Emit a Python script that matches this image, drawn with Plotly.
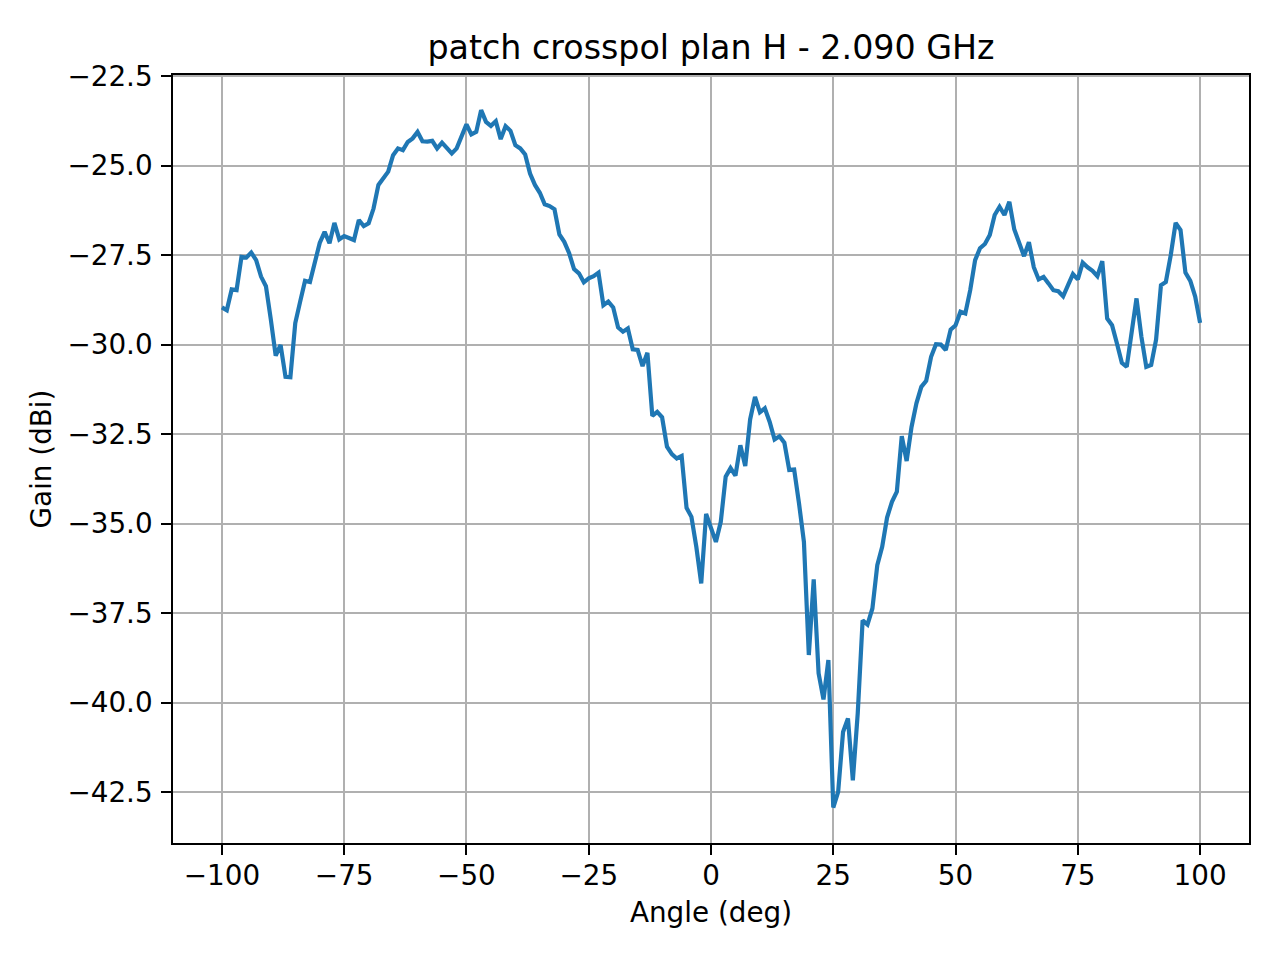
import plotly.graph_objects as go

###############################################################################
# Data: cross-polar gain of the patch, H plane, 2.090 GHz
###############################################################################
angles = list(range(-100, 101))  # deg, 1 degree step

gain_dbi = [
    -28.96, -29.04, -28.46, -28.48, -27.55, -27.57, -27.43, -27.64, -28.10, -28.37,  # -100 .. -91
    -29.30, -30.31, -30.01, -30.90, -30.91, -29.40, -28.80, -28.22, -28.25, -27.64,  # -90 .. -81
    -27.16, -26.85, -27.17, -26.60, -27.06, -26.97, -27.03, -27.08, -26.52, -26.69,  # -80 .. -71
    -26.61, -26.20, -25.54, -25.36, -25.17, -24.71, -24.52, -24.57, -24.34, -24.24,  # -70 .. -61
    -24.06, -24.32, -24.33, -24.31, -24.52, -24.36, -24.52, -24.66, -24.52, -24.22,  # -60 .. -51
    -23.85, -24.13, -24.06, -23.45, -23.78, -23.89, -23.76, -24.26, -23.90, -24.03,  # -50 .. -41
    -24.43, -24.52, -24.69, -25.22, -25.54, -25.76, -26.08, -26.13, -26.22, -26.92,  # -40 .. -31
    -27.13, -27.45, -27.89, -28.01, -28.26, -28.15, -28.09, -27.99, -28.90, -28.80,  # -30 .. -21
    -28.96, -29.52, -29.64, -29.55, -30.13, -30.15, -30.60, -30.23, -31.99, -31.88,  # -20 .. -11
    -32.03, -32.85, -33.06, -33.18, -33.11, -34.56, -34.81, -35.65, -36.67, -34.73,  # -10 .. -1
    -35.09,                                                                          # 0
    -35.51, -34.95, -33.69, -33.45, -33.66, -32.81, -33.39, -32.09, -31.46, -31.89,  # 1 .. 10
    -31.78, -32.16, -32.65, -32.56, -32.74, -33.50, -33.49, -34.44, -35.51, -38.67,  # 11 .. 20
    -36.56, -39.18, -39.91, -38.81, -42.93, -42.49, -40.82, -40.44, -42.17, -40.30,  # 21 .. 30
    -37.70, -37.82, -37.37, -36.16, -35.65, -34.83, -34.39, -34.11, -32.56, -33.25,  # 31 .. 40
    -32.30, -31.64, -31.18, -31.01, -30.34, -29.99, -30.00, -30.15, -29.58, -29.46,  # 41 .. 50
    -29.08, -29.13, -28.48, -27.64, -27.31, -27.19, -26.94, -26.38, -26.15, -26.38,  # 51 .. 60
    -26.01, -26.78, -27.17, -27.53, -27.14, -27.84, -28.18, -28.11, -28.29, -28.48,  # 61 .. 70
    -28.51, -28.65, -28.34, -28.03, -28.18, -27.71, -27.84, -27.94, -28.09, -27.67,  # 71 .. 80
    -29.27, -29.46, -29.97, -30.51, -30.62, -29.60, -28.71, -29.78, -30.62, -30.57,  # 81 .. 90
    -29.86, -28.34, -28.25, -27.50, -26.60, -26.80, -27.99, -28.22, -28.66, -29.39,  # 91 .. 100
]

x_ticks = [-100, -75, -50, -25, 0, 25, 50, 75, 100]
y_ticks = [-42.5, -40.0, -37.5, -35.0, -32.5, -30.0, -27.5, -25.0, -22.5]

title_text = "patch crosspol plan H - 2.090 GHz"
x_label = "Angle (deg)"
y_label = "Gain (dBi)"

###############################################################################
# Figure
###############################################################################
FONT = "DejaVu Sans"
GRID = "#b0b0b0"

fig = go.Figure()
fig.add_trace(go.Scatter(
    x=angles, y=gain_dbi,
    mode="lines",
    line=dict(color="#1f77b4", width=4.2),
    showlegend=False,
))

axis_common = dict(
    showline=True, linecolor="black", linewidth=2.2, mirror=True,
    showgrid=True, gridcolor=GRID, gridwidth=2.2,
    zeroline=False,
    ticks="outside", ticklen=9.7, tickwidth=2.2, tickcolor="black",
    tickfont=dict(family=FONT, size=27.8, color="black"),
)

fig.update_xaxes(
    range=[-110, 110],
    tickvals=x_ticks,
    ticklabelstandoff=-3,
    title=dict(text=x_label, font=dict(family=FONT, size=27.8, color="black"), standoff=11),
    **axis_common,
)
fig.update_yaxes(
    range=[-43.92, -22.47],
    tickvals=y_ticks,
    tickformat=".1f",
    ticklabelstandoff=3,
    title=dict(text=y_label, font=dict(family=FONT, size=27.8, color="black"), standoff=8),
    **axis_common,
)

# the page body adds an 8 px offset, so margins are shifted by that amount
fig.update_layout(
    width=1280, height=960,
    margin=dict(l=165, r=39, t=67, b=125),
    paper_bgcolor="white", plot_bgcolor="white",
    font=dict(family=FONT, color="black"),
    title=dict(
        text=title_text,
        font=dict(family=FONT, size=33.3, color="black"),
        x=703 / 1280, xanchor="center",
        y=1 - 39 / 960, yanchor="middle",
    ),
)

fig.write_html("out.html")
